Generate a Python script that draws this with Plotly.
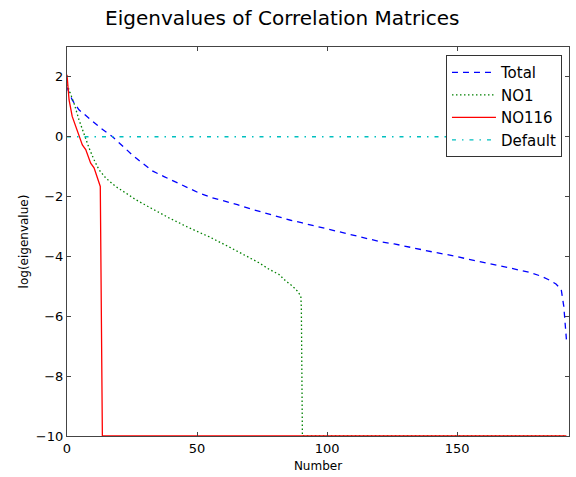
import plotly.graph_objects as go

# ── Data ──────────────────────────────────────────────────────────────────────

total_x = [0, 2, 4.6, 9, 13, 17.4, 21.3, 25, 29, 33, 37.3, 41.2, 46.3, 50.8,
           55.9, 61, 65.5, 70.6, 75.8, 80.9, 86, 90.5, 95.7, 100.5, 105.3,
           109.7, 115.5, 120.6, 125.8, 130.9, 136, 141.2, 146.3, 151.4, 155.9,
           161, 165.5, 171, 177.7, 182, 185, 188, 190, 191, 192]
total_y = [1.65, 1.23, 0.9, 0.57, 0.29, 0.01, -0.32, -0.6, -0.88, -1.15, -1.33,
           -1.49, -1.71, -1.88, -2.04, -2.15, -2.27, -2.41, -2.54, -2.65, -2.79,
           -2.88, -2.99, -3.1, -3.21, -3.29, -3.41, -3.51, -3.58, -3.68, -3.77,
           -3.86, -3.94, -4.04, -4.13, -4.21, -4.3, -4.4, -4.53, -4.65, -4.77,
           -4.92, -5.1, -5.67, -6.77]

no1_x = [0, 2.7, 4.6, 6.5, 8.5, 10.4, 12.3, 14.9, 18.7, 22.6, 26.4, 32.2, 39.2,
         46.9, 54.6, 62.3, 66.2, 70, 73.8, 77.7, 81.5, 84.1, 86.7, 88.5, 89.9,
         90.1, 90.5, 192]
no1_y = [1.75, 1.12, 0.57, 0.07, -0.38, -0.77, -1.1, -1.38, -1.66, -1.88, -2.1,
         -2.38, -2.71, -3.04, -3.34, -3.68, -3.86, -4.01, -4.21, -4.43, -4.6,
         -4.82, -4.99, -5.15, -5.32, -5.7, -10, -10]

no116_x = [0, 0.8, 2, 4, 5.9, 7.2, 9.1, 10.4, 12.3, 12.8, 13.6, 192]
no116_y = [2.07, 1.23, 0.68, 0.18, -0.27, -0.43, -0.88, -1.04, -1.54, -1.66,
           -10, -10]

default_x = [0, 192]
default_y = [0, 0]

_FONT = "DejaVu Sans, sans-serif"
_AXIS = "#444444"

fig = go.Figure()
fig.add_trace(go.Scatter(x=total_x, y=total_y, mode="lines", name="Total",
                         line=dict(color="#0000ff", width=1.3, dash="6px,5px")))
fig.add_trace(go.Scatter(x=no1_x, y=no1_y, mode="lines", name="NO1",
                         line=dict(color="#008000", width=1.3, dash="1.5px,2.5px")))
fig.add_trace(go.Scatter(x=no116_x, y=no116_y, mode="lines", name="NO116",
                         line=dict(color="#ff0000", width=1.3)))
fig.add_trace(go.Scatter(x=default_x, y=default_y, mode="lines", name="Default",
                         line=dict(color="#00bfbf", width=1.3,
                                   dash="4px,6px,1.5px,6px")))

axis_common = dict(
    showline=True, linecolor=_AXIS, linewidth=1.2, mirror="ticks",
    ticks="inside", ticklen=4, tickcolor=_AXIS, tickwidth=1,
    showgrid=False, zeroline=False,
    tickfont=dict(size=13, color="black", family=_FONT),
)

fig.update_layout(
    width=576, height=477,
    paper_bgcolor="white", plot_bgcolor="white",
    font=dict(family=_FONT, color="black"),
    title=dict(text="Eigenvalues of Correlation Matrices",
               x=0.49, xanchor="center", y=0.962, yanchor="middle",
               font=dict(size=20, color="black", family=_FONT)),
    margin=dict(l=67, r=7, t=47, b=41),
    xaxis=dict(range=[0, 193], tickvals=[0, 50, 100, 150],
               title=dict(text="Number", standoff=6,
                          font=dict(size=12, family=_FONT)),
               **axis_common),
    yaxis=dict(range=[-10, 3], tickvals=[-10, -8, -6, -4, -2, 0, 2],
               title=dict(text="log(eigenvalue)", standoff=4,
                          font=dict(size=12, family=_FONT)),
               **axis_common),
    legend=dict(x=0.986, y=0.979, xanchor="right", yanchor="top",
                bgcolor="white", bordercolor="#333333", borderwidth=1,
                itemwidth=44,
                font=dict(size=15, color="black", family=_FONT)),
    showlegend=True,
)

fig.write_html("out.html", config={"displayModeBar": False},
               post_script="document.body.style.margin='0';")
